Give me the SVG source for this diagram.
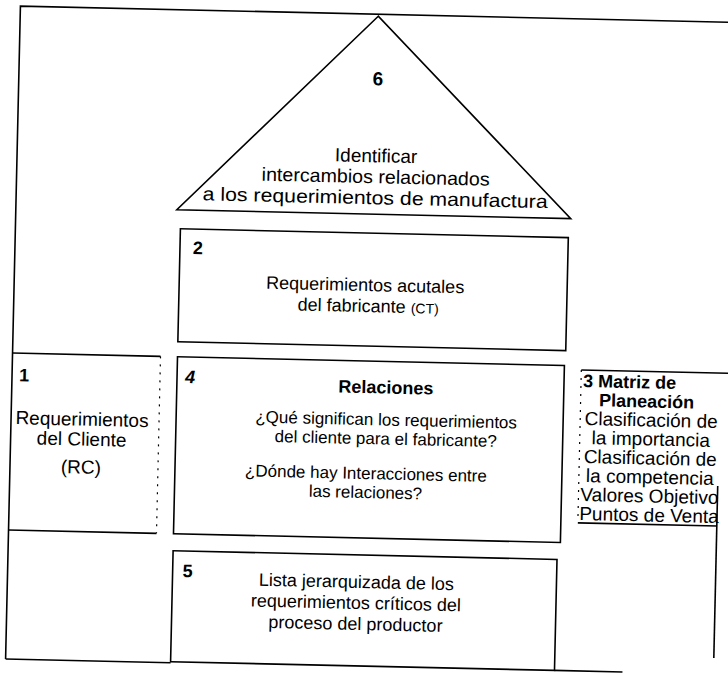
<svg xmlns="http://www.w3.org/2000/svg" width="728" height="675" viewBox="0 0 728 675">
  <style>
    .ln { fill: none; stroke: #000; stroke-width: 1.6; }
    .dot { fill: none; stroke: #000; stroke-width: 1.2; stroke-dasharray: 2 6; }
    .t { font-family: "Liberation Sans", Arial, sans-serif; font-size: 19px; fill: #000; }
    .s18 { font-size: 18px; }
    .s17 { font-size: 17px; }
    .c { text-anchor: middle; }
    .num { font-family: "Liberation Sans", Arial, sans-serif; font-size: 18px; font-weight: bold; fill: #000; }
    .b { font-weight: bold; }
  </style>
  <rect width="728" height="675" fill="#fff"/>
  <!-- the whole sheet sits slightly tilted -->
  <g transform="rotate(1.3 364 337)">
    <g id="connectors">
      <!-- outer frame -->
      <path class="ln" d="M13,667 L13,14 L745,14"/>
      <path class="ln" d="M13,667 L178,667"/>
      <path class="ln" d="M13,538 L161,538"/>
      <path class="ln" d="M562,666 L630,666"/>
      <path class="ln" d="M721,478 L721,650"/>
    </g>

    <g id="node6">
      <polygon class="ln" points="371,16 174,214 568,214"/>
      <text class="num c" x="372" y="85" style="font-size:19px">6</text>
      <text class="t c" x="372" y="162">Identificar</text>
      <text class="t c" x="372" y="183" textLength="228" lengthAdjust="spacingAndGlyphs">intercambios relacionados</text>
      <text class="t c" x="372" y="204" textLength="345" lengthAdjust="spacingAndGlyphs">a los requerimientos de manufactura</text>
    </g>

    <g id="node2">
      <rect class="ln" x="178" y="233" width="388" height="113"/>
      <text class="num" x="191" y="258">2</text>
      <text class="t s18" x="265" y="291">Requerimientos acutales</text>
      <text class="t s18" x="297" y="312">del fabricante <tspan style="font-size:14px">(CT)</tspan></text>
    </g>

    <g id="node1">
      <path class="ln" d="M13,361 L161,361"/>
      <path class="dot" d="M161,361 L161,538"/>
      <text class="num" x="20" y="389">1</text>
      <text class="t c" x="84" y="432">Requerimientos</text>
      <text class="t c" x="84" y="452">del Cliente</text>
      <text class="t c" x="84" y="480">(RC)</text>
    </g>

    <g id="node4">
      <rect class="ln" x="178" y="361" width="387" height="177"/>
      <text class="num" x="186" y="387" font-style="italic">4</text>
      <text class="t c b s18" x="387" y="393">Relaciones</text>
      <text class="t c s17" x="388" y="425">¿Qué significan los requerimientos</text>
      <text class="t c s17" x="388" y="444">del cliente para el fabricante?</text>
      <text class="t c s17" x="369" y="479">¿Dónde hay Interacciones entre</text>
      <text class="t c s17" x="369" y="498">las relaciones?</text>
    </g>

    <g id="node3">
      <path class="ln" d="M582,365 L745,365"/>
      <path class="dot" d="M582,365 L582,517"/>
      <path class="ln" d="M582,518 L721,518"/>
      <text class="t b s18" x="584" y="382">3 Matriz de</text>
      <text class="t c b s18" x="648" y="401">Planeación</text>
      <text class="t c" x="653" y="420">Clasificación de</text>
      <text class="t c" x="653" y="439">la importancia</text>
      <text class="t c" x="653" y="458">Clasificación de</text>
      <text class="t c" x="653" y="477">la competencia</text>
      <text class="t c" x="653" y="496">Valores Objetivo</text>
      <text class="t c" x="653" y="515">Puntos de Venta</text>
    </g>

    <g id="node5">
      <rect class="ln" x="178" y="555" width="384" height="111"/>
      <text class="num" x="188" y="581">5</text>
      <text class="t c s18" x="362" y="588">Lista jerarquizada de los</text>
      <text class="t c s18" x="362" y="609">requerimientos críticos del</text>
      <text class="t c s18" x="362" y="630">proceso del productor</text>
    </g>
  </g>
</svg>
